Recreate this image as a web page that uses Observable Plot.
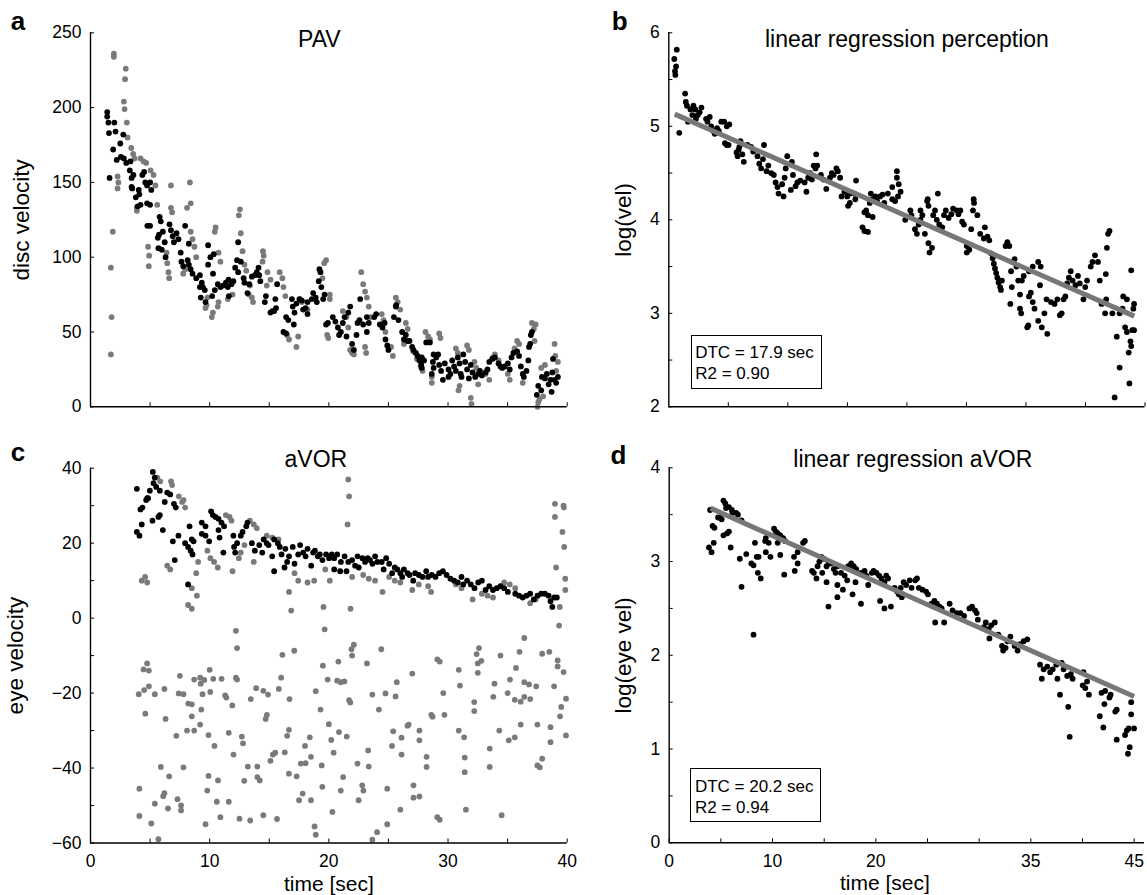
<!DOCTYPE html>
<html><head><meta charset="utf-8">
<script src="https://cdn.jsdelivr.net/npm/d3@7"></script>
<script src="https://cdn.jsdelivr.net/npm/@observablehq/plot@0.6"></script>
<style>
body{margin:0;background:#fff;}
#wrap{position:relative;width:1147px;height:895px;background:#fff;font-family:"Liberation Sans",Arial,Helvetica,sans-serif;}
.panel{position:absolute;}
.box{position:absolute;box-sizing:border-box;width:131px;height:54px;border:1.3px solid #000;background:#fff;font-size:17px;line-height:21px;padding:6.5px 0 0 3.5px;color:#000;white-space:nowrap;}
</style></head>
<body><div id="wrap"></div>
<script>
// ---------- data (time [sec], value) ----------
const pavBlack = [[1.4,197],[1.4,194],[1.5,190],[1.55,183],[1.6,153],[1.9,172],[2.0,190],[2.1,184],[2.2,165],[2.5,176],[2.55,167],[2.75,182],[2.8,166],[3.0,163],[3.3,158],[3.35,164],[3.45,153],[3.5,146],[3.45,147],[3.6,155],[3.8,140],[3.95,134],[4.05,145],[4.1,142],[4.2,135],[4.35,155],[4.5,157],[4.6,150],[4.75,148],[4.75,136],[5.0,150],[5.1,145],[5.0,135],[4.77,121],[5.0,121],[5.8,127],[5.9,124],[5.75,115],[5.65,113],[5.7,106],[5.98,105],[6.07,117],[6.3,100],[6.23,110],[6.63,122],[6.75,118],[6.9,114],[7.0,110],[7.22,116],[7.38,112],[7.57,103],[7.63,97],[7.94,121],[8.25,109],[8.15,98],[7.78,94],[8.25,95],[8.4,92],[8.56,89],[8.87,86],[9.18,88],[9.18,80],[9.34,83],[9.25,73],[9.43,80],[9.65,70],[9.59,78],[9.87,95],[9.87,108],[10.06,100],[10.28,89],[10.21,74],[10.43,78],[10.34,102],[10.68,82],[10.9,80],[11.12,81],[11.36,83],[11.58,85],[11.52,80],[11.61,74],[11.83,82],[11.99,84],[12.14,93],[12.3,98],[12.39,90],[12.39,110],[12.61,97],[12.85,86],[12.92,83],[13.17,76],[13.32,82],[13.54,87],[13.79,88],[13.95,90],[14.1,93],[14.16,88],[14.25,84],[14.63,70],[14.72,74],[15.1,63],[15.26,64],[15.51,72],[15.66,82],[15.41,64],[15.57,66],[16.19,50],[16.41,49],[16.41,60],[16.6,58],[16.9,72],[16.97,67],[17.12,63],[17.06,55],[17.28,69],[17.53,72],[17.74,71],[17.84,65],[18.05,66],[18.21,70],[18.21,62],[18.58,72],[18.68,76],[18.9,73],[18.99,70],[19.15,84],[19.21,92],[19.3,90],[19.37,80],[19.52,72],[19.64,75],[19.77,55],[19.92,56],[20.33,60],[20.55,57],[20.76,53],[20.86,48],[21.01,50],[21.17,56],[21.32,60],[21.48,47],[21.63,63],[21.79,67],[21.95,42],[22.1,38],[22.32,48],[22.41,56],[22.57,58],[22.63,72],[22.88,55],[23.19,60],[23.19,50],[23.35,56],[23.97,62],[23.81,60],[24.28,55],[24.5,53],[24.68,56],[24.75,45],[24.9,41],[25.0,38],[25.46,60],[25.62,67],[25.65,68],[25.84,58],[26.15,50],[26.3,45],[26.46,48],[26.61,44],[26.77,44],[26.99,40],[27.1,38],[27.3,36],[27.45,34],[27.6,31],[27.75,28],[27.8,26],[27.8,33],[27.99,31],[28.17,43],[28.48,43],[28.79,35],[28.73,30],[28.79,26],[28.64,22],[29.01,33],[29.17,35],[29.26,28],[29.42,24],[29.57,18],[30.04,20],[29.73,29],[30.04,25],[30.2,22],[30.35,31],[30.51,27],[30.66,24],[30.82,33],[30.97,29],[31.07,22],[31.13,20],[31.28,35],[31.44,30],[31.6,25],[31.75,19],[31.91,28],[32.06,23],[32.28,20],[32.53,22],[32.68,24],[32.84,21],[33.15,23],[33.31,25],[33.46,30],[33.71,32],[33.93,33],[34.24,29],[34.4,27],[34.55,26],[34.77,27],[35.02,29],[35.18,25],[35.33,33],[35.49,36],[35.8,37],[35.96,34],[36.11,27],[36.27,22],[36.36,20],[36.58,24],[36.74,31],[36.8,40],[36.89,42],[36.95,48],[37.04,50],[37.45,8],[37.57,14],[37.82,11],[37.88,20],[38.13,19],[38.29,22],[38.44,15],[38.6,18],[38.69,10],[38.75,23],[38.81,32],[38.94,18],[39.07,16],[39.22,20]];

const pavGray = [[1.71,93],[1.77,60],[1.71,35],[1.87,117],[1.96,236],[1.96,234],[2.27,154],[2.27,146],[2.34,150],[2.96,226],[2.9,219],[2.8,204],[2.86,199],[3.05,190],[3.11,180],[3.42,173],[3.58,169],[3.7,166],[3.89,131],[3.89,133],[4.2,166],[4.45,164],[4.67,163],[5.04,158],[5.29,155],[5.45,148],[5.6,135],[4.83,107],[4.92,101],[4.89,94],[6.38,103],[6.44,96],[6.54,90],[6.6,86],[6.75,148],[6.75,133],[6.85,130],[8.1,133],[8.41,136],[8.34,150],[8.41,117],[8.56,112],[8.72,107],[8.87,100],[7.78,89],[7.94,92],[9.65,66],[9.74,68],[9.81,73],[10.18,60],[10.27,63],[10.5,120],[10.43,117],[10.74,103],[10.9,97],[10.74,70],[10.68,67],[11.52,72],[11.92,75],[12.54,132],[12.45,128],[12.61,116],[12.76,104],[12.92,95],[13.07,91],[13.38,81],[13.29,75],[13.54,73],[13.64,70],[14.47,104],[14.53,101],[14.44,97],[14.85,90],[15.1,85],[14.79,81],[15.88,90],[16.1,86],[16.19,80],[16.35,74],[16.5,48],[16.66,45],[17.28,40],[17.43,47],[17.59,72],[17.74,70],[18.21,65],[19.61,96],[19.77,98],[19.46,86],[20.08,75],[20.08,72],[19.86,48],[19.95,46],[21.17,64],[21.48,60],[21.63,53],[21.79,38],[21.95,36],[22.1,35],[22.72,90],[22.88,82],[23.04,77],[23.19,73],[23.35,67],[23.5,60],[23.04,40],[23.13,36],[24.44,62],[24.59,58],[24.75,50],[25.62,73],[25.78,70],[25.99,65],[25.22,40],[25.37,34],[26.46,56],[26.61,52],[26.3,42],[27.08,37],[27.39,32],[27.7,27],[27.86,24],[28.11,50],[28.33,47],[28.48,45],[29.26,49],[29.36,46],[28.64,16],[28.64,20],[30.66,39],[30.82,36],[30.97,14],[30.88,11],[31.6,41],[31.75,38],[31.91,6],[31.97,2],[32.22,30],[32.37,26],[32.53,15],[33.15,22],[33.46,18],[33.77,33],[33.93,35],[34.24,31],[35.02,22],[35.18,18],[35.8,44],[35.96,42],[35.58,39],[36.27,16],[37.04,56],[37.35,55],[37.2,52],[37.26,44],[37.57,3],[37.67,5],[37.51,0],[37.82,26],[38.13,28],[37.98,7],[38.94,42],[39.0,34],[39.22,30],[39.07,24]];

const percLog = [[0.46,5.72],[0.52,5.59],[0.55,5.55],[0.61,5.64],[0.67,5.82],[0.88,4.93],[1.37,5.35],[1.43,5.26],[1.52,5.22],[1.61,5.05],[1.82,5.18],[1.98,5.12],[2.07,5.22],[2.22,5.18],[2.28,5.08],[2.43,5.12],[2.59,5.15],[2.74,5.2],[3.13,5.08],[3.25,5.05],[3.44,5.1],[3.56,5.0],[3.74,4.95],[3.86,4.92],[4.05,4.98],[4.2,4.95],[4.41,5.05],[4.65,5.05],[4.87,5.0],[5.08,5.02],[4.72,4.82],[4.87,4.8],[5.02,4.8],[5.69,4.72],[5.87,4.75],[5.78,4.68],[5.93,4.78],[6.02,4.84],[6.3,4.62],[6.18,4.7],[6.6,4.8],[6.91,4.78],[7.09,4.73],[7.45,4.68],[7.6,4.6],[7.76,4.55],[7.91,4.65],[8.0,4.8],[8.21,4.52],[8.36,4.58],[8.6,4.5],[8.82,4.48],[8.97,4.4],[9.13,4.35],[9.22,4.28],[9.64,4.25],[9.52,4.38],[9.73,4.45],[9.82,4.55],[9.95,4.68],[10.34,4.62],[10.43,4.48],[10.25,4.32],[10.65,4.36],[10.8,4.4],[11.04,4.42],[11.56,4.3],[11.41,4.4],[11.71,4.45],[11.86,4.5],[12.02,4.43],[12.17,4.58],[12.32,4.55],[12.38,4.7],[12.47,4.58],[12.78,4.48],[12.99,4.43],[13.23,4.33],[13.54,4.45],[13.69,4.5],[13.84,4.48],[14.08,4.55],[14.2,4.52],[14.39,4.45],[14.51,4.25],[14.75,4.3],[14.99,4.25],[15.21,4.28],[15.06,4.15],[15.21,4.18],[15.73,4.42],[15.6,4.28],[15.67,4.22],[16.43,4.08],[16.58,4.1],[16.73,4.05],[17.12,4.03],[16.27,3.92],[16.43,3.88],[16.73,3.87],[16.88,4.18],[17.12,4.22],[16.97,4.28],[17.34,4.25],[17.49,4.2],[17.74,4.25],[17.95,4.27],[18.1,4.18],[18.4,4.28],[18.77,4.22],[18.77,4.35],[19.16,4.52],[19.16,4.45],[19.31,4.38],[19.47,4.3],[19.01,4.2],[19.25,4.25],[20.29,4.1],[19.86,4.0],[20.38,4.05],[20.68,3.9],[20.84,3.85],[20.99,3.95],[21.14,4.0],[21.14,4.1],[21.3,4.05],[21.7,4.2],[21.75,4.22],[21.81,4.15],[21.51,3.85],[21.81,3.75],[21.9,3.65],[22.11,3.7],[22.21,4.05],[22.36,4.1],[22.51,4.0],[22.6,4.28],[22.72,3.95],[22.97,3.92],[23.12,4.05],[23.27,4.1],[23.88,4.12],[24.18,4.1],[23.73,4.06],[23.51,4.02],[24.33,4.06],[24.49,4.1],[24.64,3.98],[24.79,3.95],[25.03,3.72],[25.03,3.65],[25.24,3.68],[25.4,3.9],[25.61,4.22],[25.64,4.18],[25.92,4.05],[25.55,4.1],[26.16,3.85],[26.46,3.8],[26.77,3.82],[26.55,3.92],[26.92,3.78],[27.07,3.64],[27.2,3.59],[27.3,3.53],[27.4,3.48],[27.5,3.43],[27.6,3.38],[27.7,3.33],[27.83,3.28],[27.9,3.25],[27.98,3.35],[28.29,3.72],[28.44,3.76],[28.6,3.72],[28.9,3.55],[28.75,3.45],[28.81,3.28],[28.69,3.1],[29.05,3.58],[29.2,3.5],[29.35,3.35],[29.5,3.2],[29.5,3.05],[29.6,3.0],[30.11,2.85],[30.2,2.87],[29.66,3.35],[29.81,3.4],[30.26,3.45],[30.57,3.5],[30.26,3.18],[30.41,3.22],[30.57,3.12],[30.72,3.05],[31.03,3.55],[31.24,3.5],[31.18,3.3],[31.03,2.92],[31.33,2.85],[31.79,2.78],[31.55,3.0],[31.73,3.15],[32.1,3.12],[32.4,3.1],[32.64,3.15],[32.85,2.98],[33.0,3.0],[33.16,3.15],[33.31,3.18],[33.46,3.32],[33.61,3.38],[33.76,3.45],[33.92,3.35],[34.16,3.3],[34.37,3.4],[34.52,3.32],[34.83,3.15],[34.98,3.28],[35.13,3.35],[35.44,3.5],[35.59,3.55],[35.8,3.62],[36.05,3.55],[36.2,3.35],[36.35,3.1],[36.65,3.0],[36.71,3.42],[36.8,3.7],[36.9,3.85],[37.02,3.88],[36.74,3.15],[37.26,3.0],[37.63,2.75],[37.87,2.42],[37.45,2.1],[37.87,3.0],[38.11,3.05],[38.17,3.18],[38.48,3.15],[38.33,2.85],[38.48,2.8],[38.63,2.58],[38.69,2.25],[38.78,2.7],[38.84,2.65],[38.93,2.82],[38.84,3.46],[39.02,3.05],[39.08,3.1],[39.08,2.82]];
const percFit = [[0.5,5.13],[39.1,2.97]];

const avorBlack = [[3.89,34.5],[3.89,23],[4.11,22],[4.19,29],[4.36,29.5],[4.3,25],[4.67,31.5],[4.83,32],[4.98,34],[5.2,26],[5.23,39],[5.39,37.5],[5.29,36],[5.51,35],[4.76,32],[5.7,27],[5.82,27.5],[5.82,34],[6.23,31],[6.44,33.5],[6.69,33],[6.07,23.5],[7.0,30.5],[7.16,29.5],[6.91,20.5],[7.38,22],[7.07,15.5],[7.94,20],[8.19,19],[8.41,18],[8.56,17],[8.19,9],[8.31,24.5],[8.5,21],[8.65,20.5],[9.34,22.5],[9.34,25.5],[9.65,24.5],[9.65,22],[9.96,20.5],[10.12,28.5],[10.27,27.5],[10.49,27],[10.74,26.5],[10.99,25.5],[11.21,24.5],[10.83,21.5],[11.15,17.5],[10.74,23.5],[11.99,22],[12.05,19],[12.14,17.5],[12.3,20],[12.61,22],[12.76,23],[13.07,24.5],[13.17,25.5],[13.54,20],[13.79,18],[14.16,19.5],[14.41,17.5],[14.53,21],[14.79,20],[14.94,19.5],[15.25,16.5],[15.41,12.5],[15.41,21],[15.72,20],[15.88,19],[16.03,17],[16.35,18.5],[16.5,15],[16.66,16.5],[16.28,13.5],[17.12,14.5],[16.97,19],[17.43,17],[17.59,19.5],[17.84,17.5],[18.05,16.5],[18.52,14],[18.21,18.5],[18.68,17.5],[18.83,18],[19.08,16.5],[19.24,17],[19.46,15.5],[19.77,17],[20.02,16],[20.25,17],[20.45,16],[20.7,17],[20.45,13],[20.95,12.5],[21.01,15],[21.32,16.5],[21.63,15],[21.48,12.5],[21.95,15.5],[22.2,14],[22.41,16.5],[22.51,13.5],[22.82,16],[23.04,15],[23.26,16],[23.45,15.5],[23.66,14.5],[23.88,16.5],[24.07,15],[24.6,13],[24.44,15],[24.81,16],[25.06,14.5],[25.31,12],[25.53,13.5],[25.75,13],[26.0,12],[26.15,11],[26.3,13],[26.61,12],[26.77,11.5],[27.08,10],[27.24,12],[27.55,11.5],[27.86,11],[28.17,12.5],[28.33,11],[28.64,11.5],[28.95,11],[29.26,12],[29.57,12.5],[29.88,11.5],[30.2,10.5],[30.51,10],[30.82,9.5],[31.13,11],[31.28,9],[31.6,10],[31.91,9],[32.22,8],[32.53,9.5],[32.84,10],[33.15,7.5],[33.46,8.5],[33.77,7.5],[34.09,8],[34.4,8.5],[34.71,8],[35.02,7],[35.64,6.5],[35.96,6],[36.27,5.5],[36.58,6],[36.89,6.5],[37.2,5],[37.51,6],[37.82,6.5],[38.13,6.5],[38.44,6],[38.6,4.5],[38.75,3],[38.91,5.5],[39.13,5.5]];

const avorGrayUpper = [[5.6,37.5],[5.85,36.5],[6.76,36.5],[6.85,35.5],[7.41,32.5],[7.69,31],[7.81,31.5],[7.94,29.5],[4.3,10],[4.58,11],[4.76,9.5],[6.44,14],[6.69,13],[8.19,3.5],[8.5,2.5],[8.5,8],[8.93,6],[8.87,12],[9.03,15],[9.81,18],[10.06,16],[10.37,15],[10.68,13.5],[11.36,27.5],[11.67,27],[11.83,26],[11.92,12.5],[12.45,16],[12.61,17.5],[12.92,19.5],[13.38,26],[13.7,25],[13.95,24],[13.7,15],[14.79,22],[15.25,21.5],[15.78,21],[16.66,7],[16.84,2],[17.12,12],[17.43,10],[18.21,9.5],[18.77,10],[19.55,3],[19.65,-3],[19.7,13],[20.08,10],[21.63,37],[21.7,32.5],[21.57,25],[21.82,2.5],[21.95,11],[22.88,11.5],[23.35,10.5],[23.88,10],[24.5,7],[25.06,11],[25.53,10],[26.0,9.5],[27.0,7.5],[27.55,9],[28.33,8.5],[28.58,7],[30.66,9],[31.13,8],[32.06,5],[32.84,6.5],[33.77,5.5],[33.31,6],[34.71,9.5],[35.18,9],[35.64,8],[36.89,4],[37.35,5],[38.97,30.5],[38.97,27],[39.69,30],[39.72,29.5],[39.6,23],[39.75,19],[39.07,13.5],[39.84,10.5],[39.84,7.5],[39.38,3],[39.32,-2]];

const avorGrayLower = [[4.05,-20.3],[4.1,-45.5],[4.1,-52.8],[4.45,-13.7],[4.5,-19.2],[4.6,-25.5],[4.75,-12.1],[4.9,-14],[4.9,-18.2],[5.1,-54.8],[5.4,-20.3],[5.4,-49.5],[5.7,-59],[5.9,-39.7],[6.1,-47.5],[6.2,-46.7],[6.2,-18.9],[6.3,-26.9],[6.5,-50.8],[6.6,-42.2],[7.2,-31.4],[7.3,-48.3],[7.4,-20.1],[7.5,-15.4],[7.6,-50],[7.6,-51.3],[7.8,-20.3],[7.8,-39.8],[8.1,-30],[8.2,-22.8],[8.5,-23],[8.5,-26.2],[8.7,-16.4],[8.7,-30],[9.2,-15.9],[9.2,-28.4],[9.25,-17.5],[9.3,-24.4],[9.4,-20.3],[9.55,-16.5],[9.65,-55],[9.8,-46],[9.9,-42.1],[9.9,-31.2],[10,-13.8],[10.05,-19.7],[10.3,-16.2],[10.4,-34.1],[10.6,-49],[10.7,-43.3],[10.9,-53.1],[11,-16.2],[11.3,-20.6],[11.4,-21.2],[11.6,-30.6],[11.6,-49],[11.9,-23.3],[12,-36.4],[12.2,-3.4],[12.3,-8],[12.2,-15.9],[12.3,-16.4],[12.5,-53.5],[12.7,-31.6],[12.8,-33.4],[12.9,-43.4],[13.2,-39.6],[13.4,-54],[13.45,-21.6],[13.9,-18.7],[14,-39.6],[14,-42.4],[14.2,-43.3],[14.5,-19.4],[14.5,-52.6],[14.7,-26.9],[14.8,-25.8],[14.9,-20.4],[15.1,-38.1],[15.3,-36.4],[15.5,-35.9],[15.65,-53.6],[15.8,-18.9],[16,-15.9],[16.1,-9.8],[16.3,-35.8],[16.5,-31.4],[16.65,-29.8],[16.65,-41.5],[16.7,-21.6],[17.1,-8.7],[17.3,-42.2],[17.5,-48.6],[17.65,-38.8],[17.8,-46.8],[18,-34.1],[18.05,-38.7],[18.4,-31.8],[18.5,-48.6],[18.5,-37],[18.8,-55.6],[18.9,-19.5],[18.9,-57.8],[19.3,-24.4],[19.4,-39.3],[19.45,-45],[19.5,-12.7],[19.9,-16.4],[20,-28.3],[20.2,-32.5],[20.3,-51.7],[20.4,-35.9],[20.7,-16.7],[20.8,-11.6],[20.85,-30.4],[21,-17.1],[21,-46],[21.2,-42.4],[21.3,-16.9],[21.5,-31.6],[21.7,-21.9],[21.8,-22.5],[21.9,-8.3],[21.95,-10],[22.1,-7.1],[22.4,-38.8],[22.5,-48.6],[22.8,-44.6],[22.9,-46],[23.2,-12.1],[23.3,-35.3],[23.35,-39.6],[23.65,-20.4],[23.65,-59.1],[24.05,-57.1],[24.2,-24.4],[24.4,-8.3],[24.75,-20.1],[24.9,-45.5],[24.9,-55],[25.3,-34.1],[25.4,-30.2],[25.6,-20.9],[25.7,-17.1],[26,-51.1],[26.1,-36.4],[26.1,-31.9],[26.6,-28.7],[26.7,-28.4],[27,-14.8],[27.1,-44.6],[27.1,-47.9],[27.6,-30],[27.6,-32.6],[27.6,-47.6],[28.2,-37],[28.2,-39.7],[28.6,-25.8],[28.7,-26.3],[29.1,-11],[29.3,-11.6],[29.1,-53.1],[29.3,-53.8],[29.6,-20],[29.7,-25.8],[30.9,-13.8],[31,-18],[30.9,-30],[31.35,-31.8],[31.4,-37.2],[31.4,-41.1],[31.5,-51.1],[32.2,-22.4],[32.2,-24.8],[32.4,-9.6],[32.5,-12.1],[32.5,-14.6],[32.6,-8],[32.8,-11.4],[33.5,-34.8],[33.5,-39.7],[33.8,-21],[33.9,-17.5],[34.3,-30],[34.4,-10],[34.5,-52.6],[35,-20],[35.1,-32.6],[35.2,-16.4],[35.6,-31.8],[35.6,-21.8],[35.7,-13.3],[36,-9],[36.1,-28.4],[36.1,-22.3],[36.4,-17.1],[36.4,-5.3],[36.4,-21],[36.8,-17.7],[36.9,-21.6],[37.4,-18.2],[37.5,-39.3],[37.5,-28.4],[37.7,-39.8],[37.9,-37.5],[37.9,-9.5],[38.5,-9],[38.6,-33.1],[38.6,-29.1],[38.9,-18.2],[39.2,-11.3],[39.2,-12.9],[39.4,-26.2],[39.5,-23.7],[39.7,-14.4],[39.9,-31.3],[39.9,-21.5]];

const avorLog = [[3.96,3.55],[3.85,3.15],[4.1,3.1],[4.2,3.38],[4.38,3.36],[4.31,3.2],[4.73,3.47],[4.9,3.47],[5.08,3.45],[5.25,3.65],[5.43,3.62],[5.5,3.57],[5.78,3.58],[6.06,3.55],[5.25,3.28],[5.6,3.3],[5.78,3.32],[6.13,3.52],[6.48,3.52],[6.65,3.5],[5.95,3.15],[7.0,3.44],[6.83,3.03],[7.0,2.73],[7.46,3.08],[7.95,2.98],[8.16,2.96],[8.16,2.22],[8.3,3.2],[8.47,3.05],[8.65,3.05],[8.58,2.88],[8.86,2.82],[9.28,3.22],[9.35,3.25],[9.63,3.2],[9.35,3.1],[9.8,3.05],[10.15,3.35],[10.33,3.32],[10.5,3.3],[10.75,3.28],[10.5,3.2],[10.75,3.07],[11.03,3.25],[11.2,3.22],[11.13,2.86],[12.08,3.05],[12.15,2.9],[12.43,3.1],[12.43,2.98],[12.96,3.2],[13.13,3.22],[13.83,2.9],[14.0,2.88],[14.36,2.95],[14.53,3.0],[14.71,3.05],[14.95,3.03],[14.25,2.82],[14.81,2.88],[15.23,2.78],[15.41,2.52],[15.23,2.95],[15.41,3.0],[15.65,2.98],[15.93,2.92],[16.1,2.88],[16.28,2.95],[16.28,2.75],[16.28,2.62],[16.81,2.7],[16.63,2.88],[16.98,2.85],[17.23,2.8],[17.33,2.95],[17.61,2.98],[17.86,2.95],[18.1,2.92],[17.75,2.65],[18.03,2.78],[18.56,2.55],[18.56,2.88],[18.91,2.9],[19.08,2.85],[19.26,2.75],[19.61,2.88],[19.78,2.9],[20.06,2.88],[20.31,2.85],[20.55,2.82],[20.83,2.78],[20.41,2.58],[20.83,2.5],[21.46,2.52],[21.18,2.82],[21.01,2.85],[21.81,2.72],[22.06,2.68],[22.23,2.65],[22.51,2.62],[22.41,2.72],[22.69,2.78],[22.93,2.75],[23.28,2.8],[23.46,2.72],[23.81,2.8],[23.98,2.82],[24.16,2.72],[24.51,2.7],[24.86,2.68],[25.04,2.65],[25.39,2.55],[25.67,2.58],[25.91,2.55],[26.16,2.52],[26.37,2.5],[25.74,2.35],[26.61,2.35],[27.14,2.55],[27.42,2.48],[27.84,2.45],[28.19,2.45],[28.54,2.42],[29.06,2.5],[29.31,2.52],[29.59,2.48],[29.76,2.45],[29.87,2.38],[30.46,2.3],[30.64,2.35],[30.92,2.28],[31.16,2.32],[30.99,2.18],[31.51,2.35],[31.86,2.22],[32.21,2.1],[32.32,2.05],[32.56,2.08],[32.74,2.15],[33.02,2.2],[33.44,2.1],[33.72,2.05],[33.96,2.12],[34.31,2.15],[34.66,2.17],[35.89,1.9],[36.06,1.75],[36.24,1.85],[36.59,1.88],[36.87,1.82],[37.11,1.85],[37.46,1.9],[37.57,1.75],[37.82,1.58],[37.99,1.92],[38.17,1.85],[38.52,1.78],[38.62,1.45],[38.76,1.13],[38.87,1.8],[39.04,1.75],[40.09,1.82],[40.44,1.72],[40.02,1.68],[40.27,1.65],[40.62,1.58],[41.67,1.35],[42.02,1.23],[42.12,1.48],[41.84,1.6],[42.19,1.62],[42.61,1.55],[42.72,1.58],[43.17,1.4],[43.31,1.42],[43.31,1.1],[44.12,1.15],[44.29,1.2],[44.47,1.22],[44.4,0.95],[44.57,1.02],[44.71,1.37],[44.71,1.5],[44.99,1.22]];
const avorFit = [[4.0,3.57],[45,1.56]];

// axis ticks and labels
const ticksX40 = [0,5,10,15,20,25,30,35,40];
const ticksX45 = [0,5,10,15,20,25,30,35,40,45];
const labelsXc = [0,10,20,30,40];
const labelsXd = [0,10,20,35,45];
const ticksYa = [0,50,100,150,200,250];
const ticksYb = [2,2.5,3,3.5,4,4.5,5,5.5,6];
const labelsYb = [2,3,4,5,6];
const ticksYc = [-60,-50,-40,-30,-20,-10,0,10,20,30,40];
const labelsYc = [-60,-40,-20,0,20,40];
const ticksYd = [0,0.5,1,1.5,2,2.5,3,3.5,4];
const labelsYd = [0,1,2,3,4];

const FONT = '"Liberation Sans", Arial, Helvetica, sans-serif';
const GRAY = "#7a7a7a";
const fmt = d => String(d).replace("-", "\u2212");

function makePanel(o) {
  const marks = [];
  for (const s of o.series) {
    marks.push(Plot.dot(s.data, {x: d => d[0], y: d => d[1], r: 2.9, fill: s.color}));
  }
  if (o.fit) marks.push(Plot.line(o.fit, {x: d => d[0], y: d => d[1], stroke: "#777", strokeWidth: 5, strokeLinecap: "butt"}));
  marks.push(Plot.ruleX([o.xDomain[0]], {stroke: "black", strokeWidth: 1.4}));
  marks.push(Plot.ruleY([o.yDomain[0]], {stroke: "black", strokeWidth: 1.4}));
  marks.push(Plot.axisY(o.yTicks, {tickSize: -4, tickPadding: 13, fontSize: 17.5, label: null,
    tickFormat: d => o.yLabels.includes(d) ? fmt(d) : ""}));
  marks.push(Plot.axisX(o.xTicks, {tickSize: -4, tickPadding: 16, fontSize: 17.5, label: null,
    tickFormat: d => o.xLabels.includes(d) ? fmt(d) : ""}));
  marks.push(Plot.text([o.title], {text: d => d, frameAnchor: "top", dx: o.titleDx, dy: o.titleDy, textAnchor: "middle", lineAnchor: "bottom", fontSize: 23}));
  marks.push(Plot.text([o.letter], {text: d => d, frameAnchor: "top-left", dx: o.letterDx, dy: o.letterDy, textAnchor: "start", lineAnchor: "bottom", fontSize: 26, fontWeight: "bold"}));
  marks.push(Plot.text([o.yLabel], {text: d => d, frameAnchor: "left", rotate: -90, dx: o.yLabelDx, textAnchor: "middle", lineAnchor: "bottom", fontSize: 22.5}));
  if (o.xLabel) marks.push(Plot.text([o.xLabel], {text: d => d, frameAnchor: "bottom", dx: o.xLabelDx, dy: 47.5, textAnchor: "middle", lineAnchor: "bottom", fontSize: 21}));
  const svg = Plot.plot({
    width: o.width, height: o.height,
    marginLeft: o.mL, marginRight: o.mR, marginTop: o.mT, marginBottom: o.mB,
    x: {domain: o.xDomain}, y: {domain: o.yDomain},
    style: {fontFamily: FONT, fontSize: "17.5px", color: "black", background: "transparent", overflow: "visible"},
    marks
  });
  svg.classList.add("panel");
  svg.style.left = o.left + "px";
  svg.style.top = o.top + "px";
  return svg;
}

const wrap = document.getElementById("wrap");
wrap.appendChild(makePanel({
  left: 0, top: 0, width: 573, height: 440, mL: 90, mR: 6.3, mT: 32.3, mB: 33.7,
  xDomain: [0, 40], yDomain: [0, 250], xTicks: ticksX40.slice(1), xLabels: [], yTicks: ticksYa, yLabels: ticksYa,
  series: [{data: pavGray, color: GRAY}, {data: pavBlack, color: "black"}],
  title: "PAV", titleDx: -9.5, titleDy: 13.7, letter: "a", letterDx: -79.7, letterDy: -3.3,
  yLabel: "disc velocity", yLabelDx: -62
}));
wrap.appendChild(makePanel({
  left: 573, top: 0, width: 574, height: 440, mL: 95.3, mR: 2.5, mT: 32.3, mB: 33.7,
  xDomain: [0, 40], yDomain: [2, 6], xTicks: ticksX40.slice(1), xLabels: [], yTicks: ticksYb, yLabels: labelsYb,
  series: [{data: percLog, color: "black"}], fit: percFit,
  title: "linear regression perception", titleDx: 0, titleDy: 13.7, letter: "b", letterDx: -57, letterDy: -3,
  yLabel: "log(vel)", yLabelDx: -38.3
}));
wrap.appendChild(makePanel({
  left: 0, top: 440, width: 573, height: 455, mL: 90, mR: 6.3, mT: 27.7, mB: 52.5,
  xDomain: [0, 40], yDomain: [-60, 40], xTicks: ticksX40, xLabels: labelsXc, yTicks: ticksYc, yLabels: labelsYc,
  series: [{data: avorGrayLower, color: GRAY}, {data: avorGrayUpper, color: GRAY}, {data: avorBlack, color: "black"}],
  title: "aVOR", titleDx: -13, titleDy: -1, letter: "c", letterDx: -79.7, letterDy: -7,
  yLabel: "eye velocity", yLabelDx: -67.7, xLabel: "time [sec]", xLabelDx: 0
}));
wrap.appendChild(makePanel({
  left: 573, top: 440, width: 574, height: 455, mL: 95.7, mR: 3, mT: 27.3, mB: 52.7,
  xDomain: [0, 46], yDomain: [0, 4], xTicks: ticksX45, xLabels: labelsXd, yTicks: ticksYd, yLabels: labelsYd,
  series: [{data: avorLog, color: "black"}], fit: avorFit,
  title: "linear regression aVOR", titleDx: 6, titleDy: -0.6, letter: "d", letterDx: -58.7, letterDy: -4.3,
  yLabel: "log(eye vel)", yLabelDx: -38.3, xLabel: "time [sec]", xLabelDx: -22
}));

function addBox(left, top, lines) {
  const b = document.createElement("div");
  b.className = "box";
  b.style.left = left + "px";
  b.style.top = top + "px";
  b.innerHTML = lines.map(t => "<div>" + t + "</div>").join("");
  wrap.appendChild(b);
}
addBox(690.7, 334.7, ["DTC = 17.9 sec", "R2 = 0.90"]);
addBox(690.4, 768.3, ["DTC = 20.2 sec", "R2 = 0.94"]);
</script>
</body></html>
